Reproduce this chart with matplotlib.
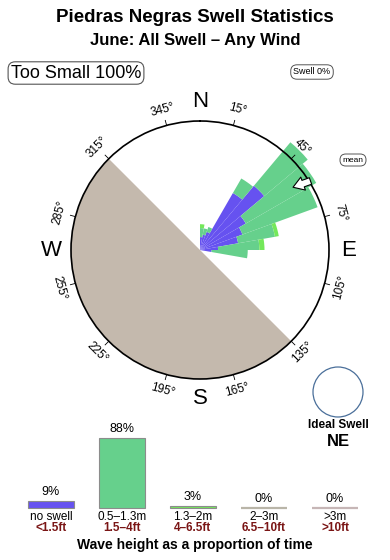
import numpy as np
import matplotlib
matplotlib.use('Agg')
import matplotlib.pyplot as plt
from matplotlib.patches import Circle

plt.rcParams['font.family'] = ['Liberation Sans', 'DejaVu Sans']

# rose: direction bins (deg, centre) and stacked radial lengths (fraction of circle)
dir_bins = [5, 15, 25, 35, 45, 55, 65, 75, 85, 95]
no_swell = [0.10, 0.12, 0.15, 0.51, 0.65, 0.41, 0.35, 0.30, 0.14, 0.09]
swell_05_13 = [0.07, 0.05, 0.04, 0.13, 0.44, 0.63, 0.62, 0.29, 0.32, 0.28]
swell_13_2 = [0.03, 0.00, 0.00, 0.00, 0.00, 0.00, 0.00, 0.03, 0.04, 0.00]
mean_dir = 57
land_from, land_to = 135, 315

# bottom histogram
height_labels = ['no swell', '0.5\u20131.3m', '1.3\u20132m', '2\u20133m', '>3m']
feet_labels = ['<1.5ft', '1.5\u20134ft', '4\u20136.5ft', '6.5\u201310ft', '>10ft']
height_pct = [9, 88, 3, 0, 0]

colors = ['#6652f0', '#66d08c', '#74e85a', '#b9b5a8', '#c6b6b6']
land_color = '#c4b9ad'
ft_color = '#7a1515'

fig = plt.figure(figsize=(3.9, 5.6), dpi=100)

fig.text(0.5, 1 - 18 / 560, 'Piedras Negras Swell Statistics', ha='center', va='center',
         fontsize=13.5, fontweight='bold')
fig.text(0.5, 1 - 40 / 560, 'June: All Swell \u2013 Any Wind', ha='center', va='center',
         fontsize=12, fontweight='bold')
fig.text(76 / 390, 1 - 73 / 560, 'Too Small 100%', ha='center', va='center', fontsize=13,
         bbox=dict(boxstyle='round,pad=0.15,rounding_size=0.4', fc='white', ec='#555555', lw=0.8))
fig.text(312 / 390, 1 - 72 / 560, 'Swell 0%', ha='center', va='center', fontsize=6.5,
         bbox=dict(boxstyle='round,pad=0.3,rounding_size=0.7', fc='white', ec='#555555', lw=0.7))
fig.text(353 / 390, 1 - 160 / 560, 'mean', ha='center', va='center', fontsize=6,
         bbox=dict(boxstyle='round,pad=0.3,rounding_size=0.7', fc='white', ec='#555555', lw=0.7))

# polar rose, centre (200,250) px, radius 129 px
cx, cy, rad = 200, 250, 129
ax = fig.add_axes([(cx - rad) / 390, (560 - cy - rad) / 560, 2 * rad / 390, 2 * rad / 560],
                  projection='polar')
ax.set_theta_zero_location('N')
ax.set_theta_direction(-1)
ax.set_ylim(0, 1)
ax.set_xticks([])
ax.set_yticks([])
ax.grid(False)
ax.spines['polar'].set_linewidth(1.2)
ax.spines['polar'].set_zorder(5)

land_w = np.radians(land_to - land_from)
ax.bar(np.radians((land_from + land_to) / 2), 1.0, width=land_w, color=land_color, lw=0, zorder=1)

theta = np.radians(dir_bins)
w = np.radians(10)
bottom = np.zeros(len(dir_bins))
for vals, c in zip([no_swell, swell_05_13, swell_13_2], colors[:3]):
    bars = ax.bar(theta, vals, width=w, bottom=bottom, color=c, lw=0, zorder=3)
    for b in bars:
        b.set_clip_on(False)
    bottom = bottom + np.array(vals)

# mean arrow
ann = ax.annotate('', xy=(np.radians(mean_dir - 1), 0.87), xytext=(np.radians(mean_dir + 1), 1.01),
                  arrowprops=dict(arrowstyle='simple,head_length=0.7,head_width=0.9,tail_width=0.45',
                                  fc='white', ec='black', lw=0.8, shrinkA=0, shrinkB=0,
                                  mutation_scale=11),
                  annotation_clip=False, zorder=6)
ann.arrow_patch.set_clip_on(False)

# degree ticks and labels
for a in range(15, 360, 30):
    th = np.radians(a)
    ax.plot([th, th], [1.0, 1.04], color='black', lw=0.6, clip_on=False, zorder=5)
    rot = -a if (a < 90 or a > 270) else 180 - a
    ax.text(th, 1.125, '%d\u00b0' % a, rotation=rot, rotation_mode='anchor', ha='center',
            va='center', fontsize=8.5, clip_on=False)
for lab, a in zip(['N', 'E', 'S', 'W'], [0, 90, 180, 270]):
    ax.text(np.radians(a), 1.155, lab, ha='center', va='center', fontsize=16, clip_on=False)

# ideal swell
fig.add_artist(Circle((338 / 100, (560 - 392) / 100), 0.25, transform=fig.dpi_scale_trans,
                      fc='white', ec='#4a6f9a', lw=0.9))
fig.text(338 / 390, 1 - 425 / 560, 'Ideal Swell', ha='center', va='center', fontsize=8.5,
         fontweight='bold')
fig.text(338 / 390, 1 - 441 / 560, 'NE', ha='center', va='center', fontsize=12, fontweight='bold')

# histogram of wave heights
bx = fig.add_axes([15.5 / 390, 52 / 560, 355 / 390, 80 / 560])
bx.set_xlim(-0.5, 4.5)
bx.set_ylim(0, 100)
bx.axis('off')
x = np.arange(len(height_pct))
for i, p in enumerate(height_pct):
    ec = '#8c8c8c' if p > 0 else colors[i]
    bx.bar(x[i], p, width=0.65, color=colors[i], edgecolor=ec, lw=0.8 if p > 0 else 1.6,
           clip_on=False)
    bx.annotate('%d%%' % p, (x[i], p), xytext=(0, 2), textcoords='offset points',
                ha='center', va='bottom', fontsize=9, annotation_clip=False)
    bx.annotate(height_labels[i], (x[i], 0), xytext=(0, -6.5), textcoords='offset points',
                ha='center', va='center', fontsize=8.5, annotation_clip=False)
    bx.annotate(feet_labels[i], (x[i], 0), xytext=(0, -14.5), textcoords='offset points',
                ha='center', va='center', fontsize=8.5, fontweight='bold', color=ft_color,
                annotation_clip=False)
fig.text(0.5, 1 - 545 / 560, 'Wave height as a proportion of time', ha='center', va='center',
         fontsize=10, fontweight='bold')

fig.savefig('out.png', dpi=100)
